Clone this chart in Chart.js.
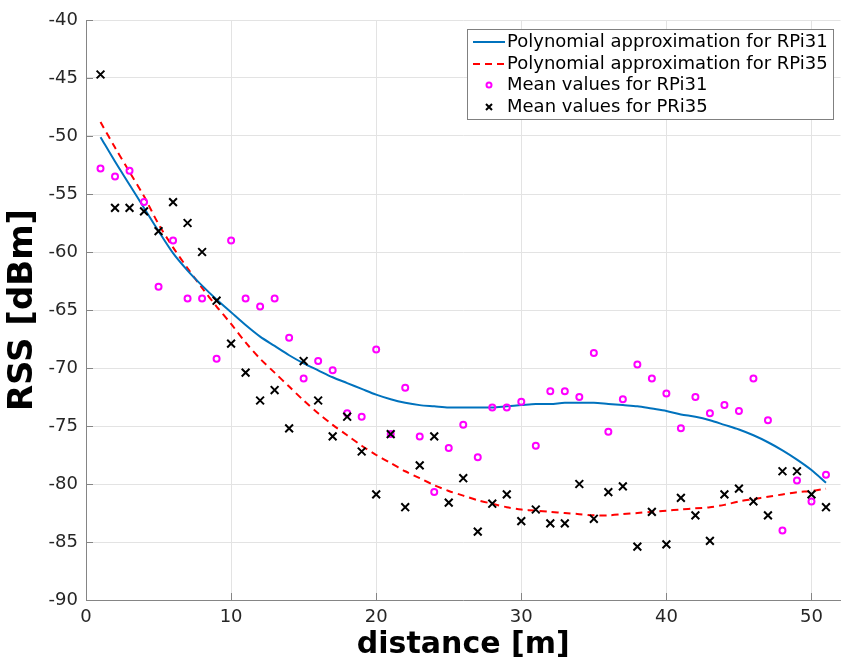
<!DOCTYPE html>
<html>
<head>
<meta charset="utf-8">
<script src="https://cdn.jsdelivr.net/npm/chart.js@4/dist/chart.umd.min.js"></script>
<style>
  html, body { margin: 0; padding: 0; background: #fff; overflow: hidden; }
  #wrap { width: 848px; height: 664px; }
</style>
</head>
<body>
<div id="wrap"><canvas id="chart"></canvas></div>
<script>
// distance [m]
const distances = [1, 2, 3, 4, 5, 6, 7, 8, 9, 10, 11, 12, 13, 14, 15, 16, 17, 18, 19, 20,
  21, 22, 23, 24, 25, 26, 27, 28, 29, 30, 31, 32, 33, 34, 35, 36, 37, 38, 39, 40,
  41, 42, 43, 44, 45, 46, 47, 48, 49, 50, 51];

// polynomial approximation RPi31
const polyRPi31 = [-50.1, -52.2, -54.2, -56.2, -58.2, -60.1, -61.6, -62.9, -64.1, -65.2,
  -66.3, -67.3, -68.1, -68.9, -69.6, -70.2, -70.8, -71.3, -71.8, -72.3,
  -72.7, -73.0, -73.2, -73.3, -73.4, -73.4, -73.4, -73.4, -73.3, -73.2,
  -73.1, -73.1, -73.0, -73.0, -73.0, -73.1, -73.2, -73.3, -73.5, -73.7,
  -74.0, -74.2, -74.5, -74.9, -75.3, -75.8, -76.4, -77.1, -77.9, -78.8, -79.9];

// polynomial approximation RPi35
const polyRPi35 = [-48.8, -51.0, -53.1, -55.2, -57.6, -59.6, -61.4, -63.1, -64.7, -66.2,
  -67.8, -69.2, -70.4, -71.6, -72.8, -73.9, -74.9, -75.8, -76.7, -77.5,
  -78.2, -78.9, -79.5, -80.1, -80.6, -81.0, -81.4, -81.7, -82.0, -82.2,
  -82.3, -82.4, -82.5, -82.6, -82.7, -82.7, -82.6, -82.5, -82.4, -82.3,
  -82.2, -82.1, -82.0, -81.8, -81.5, -81.3, -81.1, -80.9, -80.7, -80.6, -80.4];

// mean values RPi31
const meanRPi31 = [-52.8, -53.5, -53.0, -55.7, -63.0, -59.0, -64.0, -64.0, -69.2, -59.0,
  -64.0, -64.7, -64.0, -67.4, -70.9, -69.4, -70.2, -73.9, -74.2, -68.4,
  -75.7, -71.7, -75.9, -80.7, -76.9, -74.9, -77.7, -73.4, -73.4, -72.9,
  -76.7, -72.0, -72.0, -72.5, -68.7, -75.5, -72.7, -69.7, -70.9, -72.2,
  -75.2, -72.5, -73.9, -73.2, -73.7, -70.9, -74.5, -84.0, -79.7, -81.5, -79.2];

// mean values PRi35
const meanPRi35 = [-44.7, -56.2, -56.2, -56.5, -58.2, -55.7, -57.5, -60.0, -64.2, -67.9,
  -70.4, -72.8, -71.9, -75.2, -69.4, -72.8, -75.9, -74.2, -77.2, -80.9,
  -75.7, -82.0, -78.4, -75.9, -81.6, -79.5, -84.1, -81.7, -80.9, -83.2,
  -82.2, -83.4, -83.4, -80.0, -83.0, -80.7, -80.2, -85.4, -82.4, -85.2,
  -81.2, -82.7, -84.9, -80.9, -80.4, -81.5, -82.7, -78.9, -78.9, -80.9, -82.0];

const xTicks = [0, 10, 20, 30, 40, 50];
const yTicks = [-90, -85, -80, -75, -70, -65, -60, -55, -50, -45, -40];

const seriesLabels = [
  'Polynomial approximation for RPi31',
  'Polynomial approximation for RPi35',
  'Mean values for RPi31',
  'Mean values for PRi35'
];

const FONT = "'DejaVu Sans', sans-serif";
const AXIS_COLOR = '#858585';

function toPoints(ys) {
  return distances.map((d, i) => ({ x: d, y: ys[i] }));
}

// MATLAB-like inner tick marks
const innerTicks = {
  id: 'innerTicks',
  afterDraw(chart) {
    const { ctx, chartArea, scales } = chart;
    ctx.save();
    ctx.strokeStyle = AXIS_COLOR;
    ctx.lineWidth = 1;
    ctx.beginPath();
    yTicks.forEach(v => {
      const py = Math.round(scales.y.getPixelForValue(v)) + 0.5;
      ctx.moveTo(chartArea.left, py);
      ctx.lineTo(chartArea.left + 7, py);
    });
    xTicks.forEach(v => {
      const px = Math.round(scales.x.getPixelForValue(v)) + 0.5;
      ctx.moveTo(px, chartArea.bottom);
      ctx.lineTo(px, chartArea.bottom - 7);
    });
    ctx.stroke();
    ctx.restore();
  }
};

// legend box inside the plot, top right
const boxLegend = {
  id: 'boxLegend',
  afterDraw(chart) {
    const ctx = chart.ctx;
    const x0 = 467, y0 = 29, w = 366, h = 90;
    const rowY = [42, 64, 85, 107];
    ctx.save();
    ctx.fillStyle = '#fff';
    ctx.fillRect(x0, y0, w, h);
    ctx.strokeStyle = '#808080';
    ctx.lineWidth = 1;
    ctx.strokeRect(x0 + 0.5, y0 + 0.5, w, h);

    chart.data.datasets.forEach((ds, i) => {
      const y = rowY[i];
      if (i === 0 || i === 1) {
        ctx.beginPath();
        ctx.strokeStyle = ds.borderColor;
        ctx.lineWidth = 2;
        ctx.setLineDash(ds.borderDash || []);
        ctx.moveTo(473, y);
        ctx.lineTo(505, y);
        ctx.stroke();
        ctx.setLineDash([]);
      } else if (i === 2) {
        ctx.beginPath();
        ctx.strokeStyle = ds.borderColor;
        ctx.lineWidth = 2;
        ctx.arc(489, y, 2.5, 0, Math.PI * 2);
        ctx.stroke();
      } else {
        ctx.beginPath();
        ctx.strokeStyle = ds.borderColor;
        ctx.lineWidth = 2;
        ctx.moveTo(486, y - 3); ctx.lineTo(492, y + 3);
        ctx.moveTo(492, y - 3); ctx.lineTo(486, y + 3);
        ctx.stroke();
      }
      ctx.fillStyle = '#000';
      ctx.font = '18px ' + FONT;
      ctx.textBaseline = 'middle';
      ctx.textAlign = 'left';
      ctx.fillText(ds.label, 507, y);
    });
    ctx.restore();
  }
};

const ctx = document.getElementById('chart').getContext('2d');
new Chart(ctx, {
  type: 'scatter',
  data: {
    datasets: [
      {
        label: seriesLabels[0],
        type: 'line',
        data: toPoints(polyRPi31),
        borderColor: '#0072BD',
        borderWidth: 2,
        pointRadius: 0,
        tension: 0.3,
        fill: false,
        order: 3
      },
      {
        label: seriesLabels[1],
        type: 'line',
        data: toPoints(polyRPi35),
        borderColor: '#FF0000',
        borderWidth: 2,
        borderDash: [7, 5],
        pointRadius: 0,
        tension: 0.3,
        fill: false,
        order: 4
      },
      {
        label: seriesLabels[2],
        data: toPoints(meanRPi31),
        pointStyle: 'circle',
        pointRadius: 3,
        borderColor: '#FF00FF',
        backgroundColor: 'rgba(255,255,255,0)',
        borderWidth: 2,
        order: 2
      },
      {
        label: seriesLabels[3],
        data: toPoints(meanPRi35),
        pointStyle: 'crossRot',
        pointRadius: 5.5,
        borderColor: '#000000',
        borderWidth: 2,
        order: 1
      }
    ]
  },
  options: {
    responsive: true,
    maintainAspectRatio: false,
    animation: false,
    layout: { padding: { top: 20, right: 0, left: 0, bottom: 0 } },
    plugins: {
      legend: { display: false },
      tooltip: { enabled: false }
    },
    scales: {
      x: {
        type: 'linear',
        min: 0,
        max: 52,
        afterBuildTicks: scale => {
          scale.ticks = xTicks.map(v => ({ value: v }));
        },
        afterFit: scale => { scale.height = 64; },
        grid: { color: '#e3e3e3', drawTicks: false },
        border: { color: AXIS_COLOR, width: 1 },
        ticks: {
          padding: 7,
          color: '#262626',
          font: { family: FONT, size: 18 }
        },
        title: {
          display: true,
          text: 'distance [m]',
          color: '#000',
          padding: { top: 0, bottom: 1 },
          font: { family: FONT, size: 30, weight: 'bold' }
        }
      },
      y: {
        min: -90,
        max: -40,
        afterBuildTicks: scale => {
          scale.ticks = yTicks.map(v => ({ value: v }));
        },
        afterFit: scale => { scale.width = 86; },
        grid: { color: '#e3e3e3', drawTicks: false },
        border: { color: AXIS_COLOR, width: 1 },
        ticks: {
          padding: 8,
          color: '#262626',
          font: { family: FONT, size: 18 }
        },
        title: {
          display: true,
          text: 'RSS [dBm]',
          color: '#000',
          padding: { top: 3, bottom: 0 },
          font: { family: FONT, size: 34, weight: 'bold' }
        }
      }
    }
  },
  plugins: [innerTicks, boxLegend]
});
</script>
</body>
</html>
